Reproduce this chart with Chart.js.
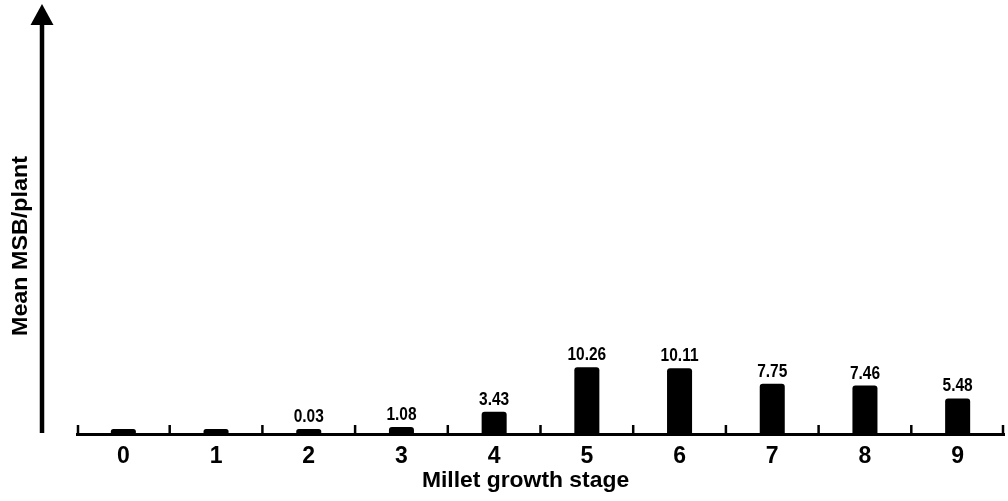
<!DOCTYPE html>
<html>
<head>
<meta charset="utf-8">
<script src="https://cdn.jsdelivr.net/npm/chart.js@4"></script>
<style>
  html, body { margin: 0; padding: 0; background: #fff; }
  #wrap { width: 1008px; height: 501px; position: relative; }
</style>
</head>
<body>
<div id="wrap"><canvas id="c" width="1008" height="501"></canvas></div>
<script>
// ---- data ----
const stages = ["0", "1", "2", "3", "4", "5", "6", "7", "8", "9"];
const meanMSB = [0, 0, 0.03, 1.08, 3.43, 10.26, 10.11, 7.75, 7.46, 5.48];
const barLabels = ["", "", "0.03", "1.08", "3.43", "10.26", "10.11", "7.75", "7.46", "5.48"];
const xTitle = "Millet growth stage";
const yTitle = "Mean MSB/plant";
const yMax = 66;

const decor = {
  id: 'decor',
  afterDraw(chart) {
    const ctx = chart.ctx;
    const a = chart.chartArea;
    const xs = chart.scales.x;
    ctx.save();
    ctx.fillStyle = '#000';
    ctx.strokeStyle = '#000';
    // y axis line with arrow
    const ax = a.left - 35;
    ctx.lineWidth = 4.5;
    ctx.beginPath();
    ctx.moveTo(ax, a.bottom - 1);
    ctx.lineTo(ax, a.top + 18);
    ctx.stroke();
    ctx.beginPath();
    ctx.moveTo(ax, a.top - 1);
    ctx.lineTo(ax - 11.5, a.top + 20);
    ctx.lineTo(ax + 11.5, a.top + 20);
    ctx.closePath();
    ctx.fill();
    // x axis upward ticks at category boundaries
    ctx.lineWidth = 2.5;
    const n = stages.length;
    for (let i = 0; i <= n; i++) {
      let x;
      if (i === 0) x = a.left + 1;
      else if (i === n) x = a.right - 1;
      else x = (xs.getPixelForValue(i - 1) + xs.getPixelForValue(i)) / 2;
      ctx.beginPath();
      ctx.moveTo(x, a.bottom);
      ctx.lineTo(x, a.bottom - 9);
      ctx.stroke();
    }
    // x title
    ctx.font = 'bold 22px "Liberation Sans", Arial, sans-serif';
    ctx.textAlign = 'center';
    ctx.textBaseline = 'alphabetic';
    ctx.save();
    ctx.translate((a.left + a.right) / 2 - 15, 487);
    ctx.scale(1.04, 1);
    ctx.fillText(xTitle, 0, 0);
    ctx.restore();
    // y title
    ctx.translate(21, 246);
    ctx.rotate(-Math.PI / 2);
    ctx.scale(1.06, 1);
    ctx.textBaseline = 'middle';
    ctx.fillText(yTitle, 0, 0);
    ctx.restore();
  },
  afterDatasetsDraw(chart) {
    const ctx = chart.ctx;
    const meta = chart.getDatasetMeta(0);
    ctx.fillStyle = '#000';
    ctx.font = 'bold 18px "Liberation Sans", Arial, sans-serif';
    ctx.textAlign = 'center';
    ctx.textBaseline = 'alphabetic';
    meta.data.forEach((el, i) => {
      const t = barLabels[i];
      if (!t) return;
      ctx.save();
      ctx.translate(el.x, el.y - 7);
      ctx.scale(0.86, 1);
      ctx.fillText(t, 0, 0);
      ctx.restore();
    });
  }
};

new Chart(document.getElementById('c'), {
  type: 'bar',
  data: {
    labels: stages,
    datasets: [{
      data: meanMSB,
      backgroundColor: '#000',
      borderWidth: 0,
      borderRadius: { topLeft: 3, topRight: 3 },
      borderSkipped: 'bottom',
      barPercentage: 0.27,
      categoryPercentage: 1.0,
      minBarLength: 5
    }]
  },
  options: {
    responsive: false,
    animation: false,
    events: [],
    layout: { padding: { left: 77, right: 4, top: 5, bottom: 0 } },
    plugins: { legend: { display: false }, tooltip: { enabled: false } },
    scales: {
      x: {
        type: 'category',
        offset: true,
        grid: { display: false, drawTicks: false },
        border: { display: true, color: '#000', width: 3 },
        ticks: {
          color: '#000',
          padding: 9,
          font: { family: '"Liberation Sans", Arial, sans-serif', size: 23, weight: 'bold' }
        },
        afterFit(scale) { scale.height = 67; }
      },
      y: {
        display: false,
        min: 0,
        max: yMax
      }
    }
  },
  plugins: [decor]
});
</script>
</body>
</html>
